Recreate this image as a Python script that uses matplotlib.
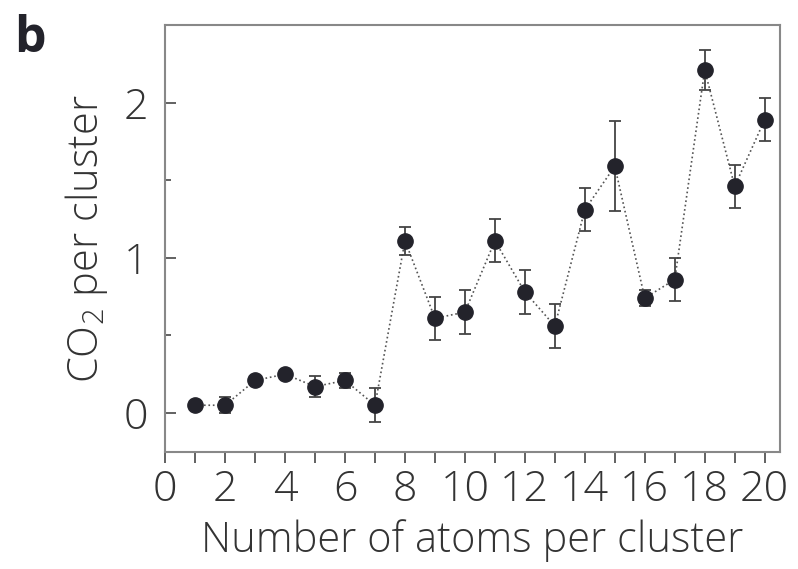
import matplotlib.pyplot as plt
from matplotlib.ticker import MultipleLocator

plt.rcParams['font.family'] = ['Open Sans', 'DejaVu Sans']
plt.rcParams['mathtext.fontset'] = 'custom'
plt.rcParams['mathtext.rm'] = 'Open Sans:light'

atoms = list(range(1, 21))
co2 = [0.05, 0.05, 0.21, 0.25, 0.17, 0.21, 0.05, 1.11, 0.61, 0.65,
       1.11, 0.78, 0.56, 1.31, 1.59, 0.74, 0.86, 2.21, 1.46, 1.89]
err = [0.0, 0.05, 0.0, 0.0, 0.07, 0.05, 0.11, 0.09, 0.14, 0.14,
       0.14, 0.14, 0.14, 0.14, 0.29, 0.05, 0.14, 0.13, 0.14, 0.14]

fig = plt.figure(figsize=(7.98, 5.69), dpi=100)
ax = fig.add_axes([0.207, 0.206, 0.77, 0.75])

ax.plot(atoms, co2, linestyle=':', color='#555555', linewidth=1.2, zorder=1)
ax.errorbar(atoms, co2, yerr=err, fmt='none', ecolor='#444444',
            elinewidth=1.3, capsize=4, capthick=1.3, zorder=2)
ax.plot(atoms, co2, 'o', color='#23232b', markersize=11, zorder=3)

ax.set_xlim(0, 20.5)
ax.set_ylim(-0.25, 2.5)
ax.xaxis.set_major_locator(MultipleLocator(2))
ax.xaxis.set_minor_locator(MultipleLocator(1))
ax.yaxis.set_major_locator(MultipleLocator(1))
ax.yaxis.set_minor_locator(MultipleLocator(0.5))

ax.tick_params(axis='x', which='both', direction='out', length=8, width=1.3,
               color='#555555', labelsize=31, pad=4)
ax.tick_params(axis='y', which='major', direction='in', length=8, width=1.3,
               color='#555555', labelsize=31, pad=12)
ax.tick_params(axis='y', which='minor', direction='in', length=4, width=1.3,
               color='#555555')
for s in ax.spines.values():
    s.set_color('#888888')
    s.set_linewidth(1.5)

for lab in ax.get_xticklabels() + ax.get_yticklabels():
    lab.set_fontweight('light')
    lab.set_color('#333333')

ax.set_xlabel('Number of atoms per cluster', fontsize=30, fontweight='light',
              color='#333333', labelpad=6)
ax.set_ylabel('CO$\\mathrm{_2}$ per cluster', fontsize=30, fontweight='light',
              color='#333333', labelpad=10)

fig.text(0.018, 0.975, 'b', fontsize=36, fontweight='bold', color='#23232b',
         va='top', ha='left')

fig.savefig('out.png', dpi=100)
